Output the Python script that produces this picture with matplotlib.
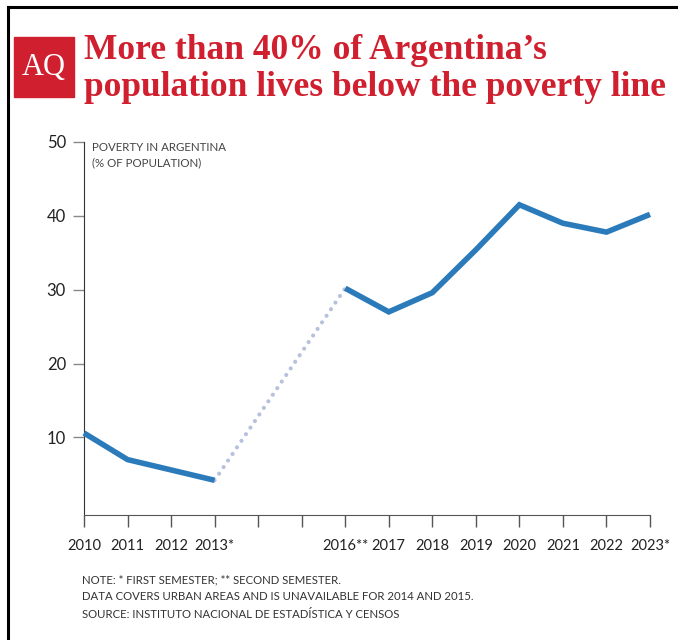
import matplotlib
matplotlib.use("Agg")
import matplotlib.pyplot as plt
from matplotlib.patches import Rectangle
from matplotlib.lines import Line2D

years = list(range(2010, 2024))
tick_labels = ["2010", "2011", "2012", "2013*", "", "", "2016**", "2017",
               "2018", "2019", "2020", "2021", "2022", "2023*"]
years_a = [2010, 2011, 2012, 2013]
poverty_a = [10.6, 7.0, 5.6, 4.2]
years_gap = [2013, 2016]
poverty_gap = [4.2, 30.2]
years_b = [2016, 2017, 2018, 2019, 2020, 2021, 2022, 2023]
poverty_b = [30.2, 27.0, 29.6, 35.4, 41.5, 39.0, 37.8, 40.2]
yticks = [10, 20, 30, 40, 50]

title_lines = ["More than 40% of Argentina\u2019s",
               "population lives below the poverty line"]
notes = ["NOTE: * FIRST SEMESTER; ** SECOND SEMESTER.",
         "DATA COVERS URBAN AREAS AND IS UNAVAILABLE FOR 2014 AND 2015.",
         "SOURCE: INSTITUTO NACIONAL DE ESTAD\u00cdSTICA Y CENSOS"]

RED = "#d01f2e"
BLUE = "#2b7bbb"
SANS = ["Lato", "DejaVu Sans"]

fig = plt.figure(figsize=(6.78, 6.4), dpi=100, facecolor="white")
W, H = 678, 640

# frame (top and left)
fig.add_artist(Line2D([8 / W, 8 / W], [0, 1 - 7 / H], color="black", lw=2.2,
                      transform=fig.transFigure))
fig.add_artist(Line2D([8 / W, 1], [1 - 7 / H, 1 - 7 / H], color="black", lw=2.2,
                      transform=fig.transFigure))

# logo
fig.add_artist(Rectangle((14 / W, 1 - 97 / H), 60 / W, 60 / H, color=RED,
                         transform=fig.transFigure))
fig.text(44 / W, 1 - 67 / H, "AQ", color="white", fontsize=22,
         family="Liberation Serif", ha="center", va="center")

# title
for i, line in enumerate(title_lines):
    fig.text(84 / W, 1 - (59 + 37 * i) / H, line, color=RED, fontsize=25.5,
             family="Liberation Serif", fontweight="bold", ha="left",
             va="baseline")

ax = fig.add_axes([84 / W, 125 / H, 566 / W, 373 / H])
ax.plot(years_a, poverty_a, color=BLUE, lw=4, solid_capstyle="butt",
        solid_joinstyle="miter", clip_on=False, zorder=3)
ax.plot(years_b, poverty_b, color=BLUE, lw=4, solid_capstyle="butt",
        solid_joinstyle="miter", clip_on=False, zorder=3)
ax.plot(years_gap, poverty_gap, color="#b7c1dc", lw=3, ls=(0, (0.01, 1.9)),
        dash_capstyle="round", clip_on=False, zorder=2)

ax.set_xlim(2010, 2023)
ax.set_ylim(-0.5, 50)
ax.set_xticks(years)
ax.set_xticklabels(tick_labels, family=SANS, fontsize=10.5, color="#222")
ax.set_yticks(yticks)
ax.set_yticklabels([str(v) for v in yticks], family=SANS, fontsize=12,
                   color="#222")
ax.tick_params(axis="x", length=8.5, width=1, color="#555", pad=9)
ax.tick_params(axis="y", length=8, width=1, color="#888", pad=5)
for s in ["top", "right"]:
    ax.spines[s].set_visible(False)
ax.spines["left"].set_color("#333")
ax.spines["bottom"].set_color("#555")

ax.text(0.014, 50, "POVERTY IN ARGENTINA\n(% OF POPULATION)",
        transform=ax.get_yaxis_transform(), family=SANS, fontsize=8.3,
        color="#444", va="top", ha="left", linespacing=1.45)

for i, line in enumerate(notes):
    fig.text(82 / W, 1 - (580 + 17 * i) / H, line, family=SANS, fontsize=8.2,
             color="#333", va="center", ha="left")

fig.savefig("out.png", dpi=100, facecolor="white")
